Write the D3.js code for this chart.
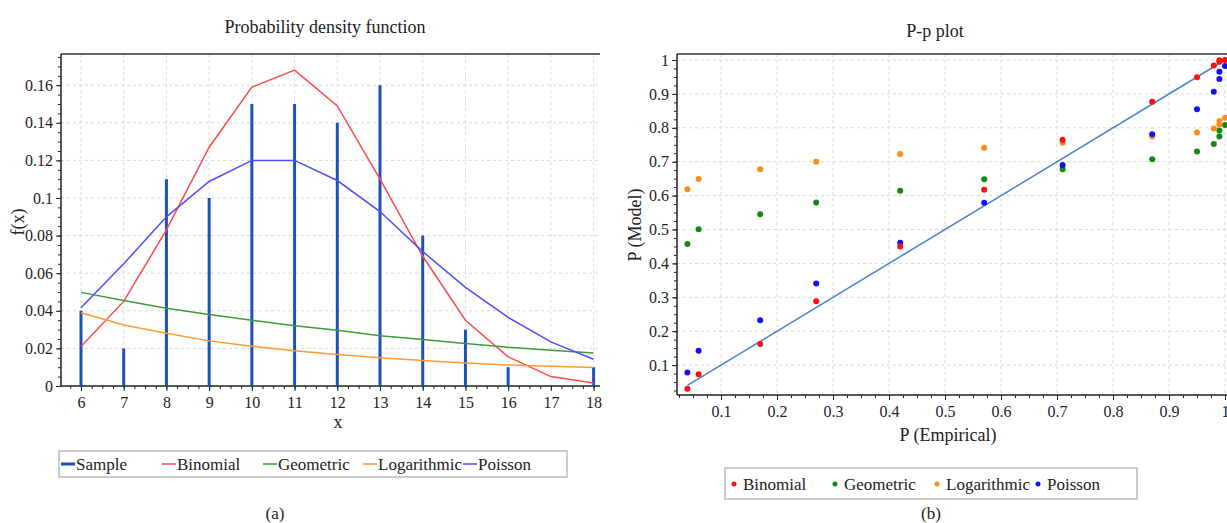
<!DOCTYPE html>
<html>
<head>
<meta charset="utf-8">
<script src="https://cdn.jsdelivr.net/npm/d3@7"></script>
<style>
  html, body { margin: 0; padding: 0; background: #fff; }
  svg { display: block; }
  svg text { font-family: "Liberation Serif", "Times New Roman", serif; }
  .grid line { stroke: #d9d9d9; stroke-dasharray: 3,3; }
  .axis path, .axis line { stroke: #222; }
  .axis text { font-size: 16px; fill: #222; }
</style>
</head>
<body>
<div id="chart"></div>
<script>
// values
const xValues = [6, 7, 8, 9, 10, 11, 12, 13, 14, 15, 16, 17, 18];
const sampleF = [0.04, 0.02, 0.11, 0.10, 0.15, 0.15, 0.14, 0.16, 0.08, 0.03, 0.01, 0, 0.01];
const binomialF = [0.021, 0.045, 0.083, 0.127, 0.159, 0.168, 0.149, 0.110, 0.069, 0.035, 0.0155, 0.005, 0.0016];
const geometricF = [0.0498, 0.0455, 0.0413, 0.038, 0.035, 0.032, 0.0297, 0.0267, 0.0247, 0.0226, 0.0206, 0.019, 0.0176];
const logarithmicF = [0.039, 0.0324, 0.028, 0.024, 0.0212, 0.0187, 0.0167, 0.015, 0.0135, 0.0123, 0.0112, 0.0105, 0.0098];
const poissonF = [0.0416, 0.065, 0.090, 0.1088, 0.12, 0.12, 0.1093, 0.0928, 0.0715, 0.0525, 0.0365, 0.0235, 0.0142];
const pdfTicksY = [0, 0.02, 0.04, 0.06, 0.08, 0.1, 0.12, 0.14, 0.16];

const empiricalP = [0.04, 0.06, 0.17, 0.27, 0.42, 0.57, 0.71, 0.87, 0.95, 0.98, 0.99, 0.99, 1.0];
const binomialP = [0.03, 0.073, 0.162, 0.288, 0.45, 0.617, 0.765, 0.877, 0.949, 0.984, 0.995, 0.999, 1.0];
const geometricP = [0.457, 0.501, 0.545, 0.58, 0.614, 0.648, 0.678, 0.707, 0.73, 0.752, 0.774, 0.792, 0.808];
const logarithmicP = [0.619, 0.649, 0.678, 0.70, 0.723, 0.741, 0.756, 0.774, 0.786, 0.798, 0.81, 0.82, 0.83];
const poissonP = [0.078, 0.142, 0.232, 0.341, 0.461, 0.579, 0.69, 0.781, 0.855, 0.906, 0.944, 0.965, 0.982];
const refLineP = [0.04, 1.0];
const ppTicks = [0.1, 0.2, 0.3, 0.4, 0.5, 0.6, 0.7, 0.8, 0.9, 1];

(function () {
  const width = 1227;
  const height = 523;
  const serif = "'Liberation Serif', 'Times New Roman', serif";

  const svg = d3.select("#chart").append("svg")
    .attr("width", width).attr("height", height);

  const trimNum = (d) => d3.format("~g")(d);
  const styleAxis = (g) => g.attr("font-family", serif).attr("font-size", 16);

  // ---------- (a) probability density function ----------
  const a = { left: 61, right: 600, top: 54, bottom: 386 };
  const xA = d3.scaleLinear().domain([5.532, 18.15]).range([a.left, a.right]);
  const yA = d3.scaleLinear().domain([0, 0.1766]).range([a.bottom, a.top]);

  const gA = svg.append("g");

  gA.append("g").attr("class", "grid")
    .selectAll("line").data(xValues).join("line")
    .attr("x1", (d) => xA(d)).attr("x2", (d) => xA(d))
    .attr("y1", a.top).attr("y2", a.bottom);
  gA.append("g").attr("class", "grid")
    .selectAll("line").data(pdfTicksY.slice(1)).join("line")
    .attr("x1", a.left).attr("x2", a.right)
    .attr("y1", (d) => yA(d)).attr("y2", (d) => yA(d));

  gA.append("line")
    .attr("x1", a.left).attr("x2", a.right)
    .attr("y1", a.top).attr("y2", a.top)
    .attr("stroke", "#666").attr("stroke-width", 2);

  // minor ticks
  gA.append("g").attr("class", "axis")
    .attr("transform", `translate(0,${a.bottom})`)
    .call(d3.axisBottom(xA).tickValues(d3.range(5.75, 18.1, 0.25)).tickSize(3).tickFormat(""))
    .call((g) => g.select(".domain").remove());
  gA.append("g").attr("class", "axis")
    .attr("transform", `translate(${a.left},0)`)
    .call(d3.axisLeft(yA).tickValues(d3.range(0.005, 0.176, 0.005)).tickSize(3).tickFormat(""))
    .call((g) => g.select(".domain").remove());

  gA.append("g").attr("class", "axis")
    .attr("transform", `translate(0,${a.bottom})`)
    .call(d3.axisBottom(xA).tickValues(xValues).tickSize(5).tickPadding(6).tickFormat(trimNum))
    .call(styleAxis)
    .call((g) => g.select(".domain").attr("d", `M${a.left},0H${a.right}`).attr("stroke-width", 1.5));
  gA.append("g").attr("class", "axis")
    .attr("transform", `translate(${a.left},0)`)
    .call(d3.axisLeft(yA).tickValues(pdfTicksY).tickSize(5).tickPadding(3).tickFormat(trimNum))
    .call(styleAxis)
    .call((g) => g.select(".domain").attr("d", `M0,${a.top}V${a.bottom}`).attr("stroke-width", 1.5));

  const pdfSeries = [
    { name: "Binomial", values: binomialF, color: "#ff4a4a" },
    { name: "Geometric", values: geometricF, color: "#3a9d3a" },
    { name: "Logarithmic", values: logarithmicF, color: "#ff9a33" },
    { name: "Poisson", values: poissonF, color: "#4d4dff" },
  ];
  const sampleColor = "#1f50b8";

  gA.append("g").selectAll("line").data(xValues.map((x, i) => [x, sampleF[i]]).filter((d) => d[1] > 0))
    .join("line")
    .attr("x1", (d) => xA(d[0])).attr("x2", (d) => xA(d[0]))
    .attr("y1", yA(0)).attr("y2", (d) => yA(d[1]))
    .attr("stroke", sampleColor).attr("stroke-width", 3);

  const lineA = d3.line().x((d) => xA(d[0])).y((d) => yA(d[1]));
  gA.append("g").selectAll("path").data(pdfSeries).join("path")
    .attr("d", (s) => lineA(xValues.map((x, i) => [x, s.values[i]])))
    .attr("fill", "none").attr("stroke", (s) => s.color).attr("stroke-width", 1.5);

  svg.append("text").attr("x", 325).attr("y", 33).attr("text-anchor", "middle")
    .attr("font-size", 18).attr("fill", "#222").text("Probability density function");
  svg.append("text").attr("x", 338).attr("y", 428).attr("text-anchor", "middle")
    .attr("font-size", 18).attr("fill", "#222").text("x");
  svg.append("text").attr("transform", "translate(24,222) rotate(-90)").attr("text-anchor", "middle")
    .attr("font-size", 18).attr("fill", "#222").text("f(x)");

  const legendA = svg.append("g");
  legendA.append("rect").attr("x", 59).attr("y", 451).attr("width", 508).attr("height", 26)
    .attr("fill", "#fff").attr("stroke", "#bbb").attr("stroke-width", 1.5);
  const legendAItems = [
    { name: "Sample", color: sampleColor, x: 61, w: 3 },
    { name: "Binomial", color: pdfSeries[0].color, x: 162, w: 1.5 },
    { name: "Geometric", color: pdfSeries[1].color, x: 263, w: 1.5 },
    { name: "Logarithmic", color: pdfSeries[2].color, x: 363, w: 1.5 },
    { name: "Poisson", color: pdfSeries[3].color, x: 463, w: 1.5 },
  ];
  const la = legendA.selectAll("g").data(legendAItems).join("g")
    .attr("transform", (d) => `translate(${d.x},464)`);
  la.append("line").attr("x1", 0).attr("x2", 14).attr("stroke", (d) => d.color).attr("stroke-width", (d) => d.w);
  la.append("text").attr("x", 15).attr("y", 6).attr("font-size", 17).attr("fill", "#222").text((d) => d.name);

  svg.append("text").attr("x", 275).attr("y", 519).attr("text-anchor", "middle")
    .attr("font-size", 17).attr("fill", "#222").text("(a)");

  // ---------- (b) P-p plot ----------
  const b = { left: 677, right: 1245, top: 54, bottom: 395 };
  const xB = d3.scaleLinear().domain([0, 1]).range([665, 1225]);
  const yB = d3.scaleLinear().domain([0, 1]).range([399, 60]);

  const gB = svg.append("g");
  gB.append("g").attr("class", "grid")
    .selectAll("line").data(ppTicks).join("line")
    .attr("x1", (d) => xB(d)).attr("x2", (d) => xB(d))
    .attr("y1", b.top).attr("y2", b.bottom);
  gB.append("g").attr("class", "grid")
    .selectAll("line").data(ppTicks).join("line")
    .attr("x1", b.left).attr("x2", b.right)
    .attr("y1", (d) => yB(d)).attr("y2", (d) => yB(d));

  gB.append("line")
    .attr("x1", b.left).attr("x2", b.right)
    .attr("y1", b.top).attr("y2", b.top)
    .attr("stroke", "#666").attr("stroke-width", 2);

  gB.append("g").attr("class", "axis")
    .attr("transform", `translate(0,${b.bottom})`)
    .call(d3.axisBottom(xB).tickValues(d3.range(0.025, 1.01, 0.025)).tickSize(3).tickFormat(""))
    .call((g) => g.select(".domain").remove());
  gB.append("g").attr("class", "axis")
    .attr("transform", `translate(${b.left},0)`)
    .call(d3.axisLeft(yB).tickValues(d3.range(0.025, 1.01, 0.025)).tickSize(3).tickFormat(""))
    .call((g) => g.select(".domain").remove());

  gB.append("g").attr("class", "axis")
    .attr("transform", `translate(0,${b.bottom})`)
    .call(d3.axisBottom(xB).tickValues(ppTicks).tickSize(5).tickPadding(6).tickFormat(trimNum))
    .call(styleAxis)
    .call((g) => g.select(".domain").attr("d", `M${b.left},0H${b.right}`).attr("stroke-width", 1.5));
  gB.append("g").attr("class", "axis")
    .attr("transform", `translate(${b.left},0)`)
    .call(d3.axisLeft(yB).tickValues(ppTicks).tickSize(5).tickPadding(3).tickFormat(trimNum))
    .call(styleAxis)
    .call((g) => g.select(".domain").attr("d", `M0,${b.top}V${b.bottom}`).attr("stroke-width", 1.5));

  gB.append("line")
    .attr("x1", xB(refLineP[0])).attr("y1", yB(refLineP[0]))
    .attr("x2", xB(refLineP[1])).attr("y2", yB(refLineP[1]))
    .attr("stroke", "#4a80d0").attr("stroke-width", 1.5);

  const ppSeries = [
    { name: "Geometric", values: geometricP, color: "#128a12" },
    { name: "Logarithmic", values: logarithmicP, color: "#ff8c1a" },
    { name: "Poisson", values: poissonP, color: "#1010ff" },
    { name: "Binomial", values: binomialP, color: "#ff1010" },
  ];
  ppSeries.forEach((s) => {
    gB.append("g").selectAll("circle").data(empiricalP.map((e, i) => [e, s.values[i]])).join("circle")
      .attr("cx", (d) => xB(d[0])).attr("cy", (d) => yB(d[1])).attr("r", 3)
      .attr("fill", s.color);
  });

  svg.append("text").attr("x", 935).attr("y", 37).attr("text-anchor", "middle")
    .attr("font-size", 18).attr("fill", "#222").text("P-p plot");
  svg.append("text").attr("x", 948).attr("y", 441).attr("text-anchor", "middle")
    .attr("font-size", 18).attr("fill", "#222").text("P (Empirical)");
  svg.append("text").attr("transform", "translate(641,225) rotate(-90)").attr("text-anchor", "middle")
    .attr("font-size", 18).attr("fill", "#222").text("P (Model)");

  const legendB = svg.append("g");
  legendB.append("rect").attr("x", 725).attr("y", 468).attr("width", 412).attr("height", 31)
    .attr("fill", "#fff").attr("stroke", "#bbb").attr("stroke-width", 1.5);
  const legendBItems = [
    { name: "Binomial", color: "#ff1010", x: 734 },
    { name: "Geometric", color: "#128a12", x: 835 },
    { name: "Logarithmic", color: "#ff8c1a", x: 937 },
    { name: "Poisson", color: "#1010ff", x: 1038 },
  ];
  const lb = legendB.selectAll("g").data(legendBItems).join("g")
    .attr("transform", (d) => `translate(${d.x},484)`);
  lb.append("circle").attr("r", 2.5).attr("fill", (d) => d.color);
  lb.append("text").attr("x", 9).attr("y", 6).attr("font-size", 17).attr("fill", "#222").text((d) => d.name);

  svg.append("text").attr("x", 931).attr("y", 519).attr("text-anchor", "middle")
    .attr("font-size", 17).attr("fill", "#222").text("(b)");
})();
</script>
</body>
</html>
